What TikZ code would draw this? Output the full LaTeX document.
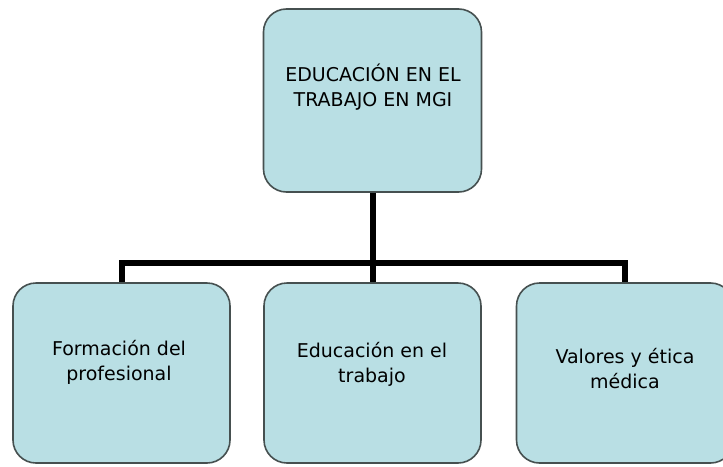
\documentclass[tikz,border=0pt]{standalone}
\usepackage{fontspec}
\setmainfont{DejaVu Sans}
\definecolor{boxfill}{RGB}{185,223,228}
\definecolor{boxline}{RGB}{70,80,80}
\begin{document}
\begin{tikzpicture}[x=1pt,y=-1pt,
  card/.style={draw=boxline, line width=1.6pt, fill=boxfill, rounded corners=23pt, inner sep=0pt},
  lbl/.style={align=center, inner sep=0pt, font=\fontsize{19}{25}\selectfont},
  conn/.style={line width=6pt, draw=black, line join=miter}]
\useasboundingbox (0,0) rectangle (723,466);
\clip (0,0) rectangle (723,466);
\fill[white] (0,0) rectangle (723,466);
% boxes
\node[card, minimum width=218pt, minimum height=183pt] (top) at (372.5,100.5) {};
\node[card, minimum width=217pt, minimum height=180pt] (left) at (121.5,373) {};
\node[card, minimum width=217pt, minimum height=180pt] (mid) at (372.5,373) {};
\node[card, minimum width=217pt, minimum height=180pt] (right) at (625,373) {};
% connectors
\coordinate (bus) at (372,263);
\draw[conn] (top.south) -- (mid.north);
\draw[conn] (left.north) -- (left.north |- bus) -- (right.north |- bus) -- (right.north);
% labels
\node[lbl] (ttop) at (373,87) {EDUCACIÓN EN EL\\TRABAJO EN MGI};
\node[lbl] (tleft) at (119,362) {Formación del\\profesional};
\node[lbl] (tmid) at (372,364) {Educación en el\\trabajo};
\node[lbl] (tright) at (625,369) {Valores y ética\\médica};
\end{tikzpicture}
\end{document}
